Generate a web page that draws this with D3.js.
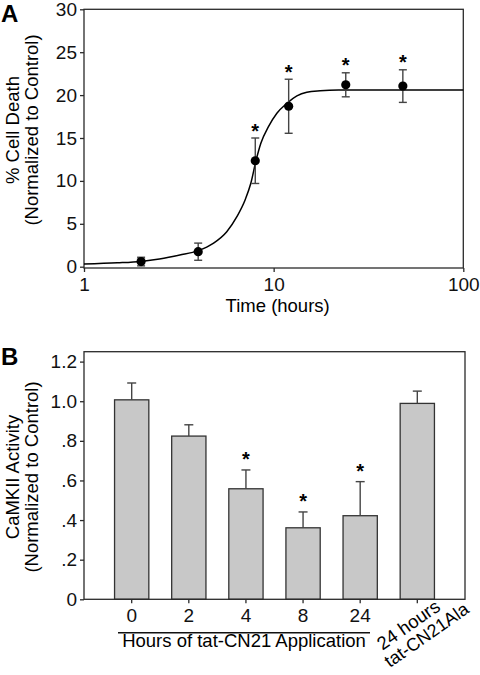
<!DOCTYPE html>
<html>
<head>
<meta charset="utf-8">
<script src="https://cdn.jsdelivr.net/npm/d3@7"></script>
<style>
  html, body { margin: 0; padding: 0; background: #fff; }
  svg { display: block; font-family: "Liberation Sans", Arial, Helvetica, sans-serif; }
</style>
</head>
<body>
<svg id="chart" width="480" height="675"></svg>
<script>
// ---------- Panel A data ----------
const timeHours    = [2, 4, 8, 12, 24, 48];
const cellDeath    = [0.6, 1.75, 12.35, 18.7, 21.2, 21.05];
const cellDeathErr = [0.5, 1.0, 2.65, 3.15, 1.4, 1.9];
const sigA         = [false, false, true, true, true, true];
// fitted sigmoid
const fitT = [1, 1.5, 2, 2.5, 3.2, 4, 4.8, 5.66, 6.4, 7.07, 7.58, 8.07, 8.56, 9.39, 10.4, 11.74, 13.26, 14.96, 17.6, 22, 30, 50, 100];
const fitV = [0.31, 0.45, 0.62, 0.9, 1.36, 1.87, 2.72, 4.08, 5.83, 7.77, 9.72, 12.35, 14.38, 16.32, 17.88, 19.04, 19.9, 20.33, 20.51, 20.6, 20.6, 20.6, 20.6];
const yTicksA = [0, 5, 10, 15, 20, 25, 30];
const xTicksA = [1, 10, 100];

// ---------- Panel B data ----------
const categories  = ["0", "2", "4", "8", "24", "ala"];
const catLabels   = ["0", "2", "4", "8", "24", ""];
const alaLabel    = ["24 hours", "tat-CN21Ala"];
const activity    = [1.007, 0.824, 0.558, 0.361, 0.422, 0.989];
const activityErr = [0.085, 0.057, 0.095, 0.080, 0.172, 0.062];
const sigB        = [false, false, true, true, true, false];
const yTicksB      = [0, 0.2, 0.4, 0.6, 0.8, 1.0, 1.2];
const yTickLabelsB = ["0", ".2", ".4", ".6", ".8", "1.0", "1.2"];

const svg = d3.select("#chart");
const AX = "#2a2a2a";
const ERR = "#444";
const TICKFONT = 19;
const TITLEFONT = 18.5;

// ================= Panel A =================
const left = 84;
const xA = d3.scaleLog().domain([1, 100]).range([left, 463.3]);
const yA = d3.scaleLinear().domain([0, 30]).range([266.7, 9.3]);
const bottomA = 268;

const gA = svg.append("g");
gA.append("rect").attr("x", left).attr("y", yA(30)).attr("width", xA(100) - left).attr("height", bottomA - yA(30))
  .attr("fill", "none").attr("stroke", AX).attr("stroke-width", 1.3);

const axLA = gA.append("g").attr("transform", `translate(${left},0)`)
  .call(d3.axisLeft(yA).tickValues(yTicksA).tickSize(4).tickPadding(3));
const axBA = gA.append("g").attr("transform", `translate(0,${bottomA})`)
  .call(d3.axisBottom(xA).tickValues(xTicksA).tickFormat(d3.format("d")).tickSize(4).tickPadding(6));
[axLA, axBA].forEach(a => {
  a.select(".domain").remove();
  a.selectAll("line").attr("stroke", AX).attr("stroke-width", 1.3);
  a.selectAll("text").attr("font-size", TICKFONT).attr("fill", "#111").attr("font-family", null);
});

// fitted curve
const line = d3.line().x(d => xA(d[0])).y(d => yA(d[1])).curve(d3.curveMonotoneX);
gA.append("path").datum(fitT.map((t, i) => [t, fitV[i]]))
  .attr("d", line).attr("fill", "none").attr("stroke", "#000").attr("stroke-width", 1.5);

// error bars
timeHours.forEach((t, i) => {
  const x = xA(t), y1 = yA(cellDeath[i] - cellDeathErr[i]), y2 = yA(cellDeath[i] + cellDeathErr[i]);
  const g = gA.append("g").attr("stroke", ERR).attr("stroke-width", 1.4);
  g.append("line").attr("x1", x).attr("x2", x).attr("y1", y1).attr("y2", y2);
  g.append("line").attr("x1", x - 4).attr("x2", x + 4).attr("y1", y1).attr("y2", y1);
  g.append("line").attr("x1", x - 4).attr("x2", x + 4).attr("y1", y2).attr("y2", y2);
  gA.append("circle").attr("cx", x).attr("cy", yA(cellDeath[i])).attr("r", 4.6).attr("fill", "#000");
  if (sigA[i]) {
    gA.append("text").attr("x", x).attr("y", y2 - 0.5).attr("text-anchor", "middle")
      .attr("font-size", 20).attr("font-weight", "bold").text("*");
  }
});

// titles
gA.append("text").attr("x", xA(10) + 4).attr("y", 312).attr("text-anchor", "middle")
  .attr("font-size", TITLEFONT).text("Time (hours)");
const tA = gA.append("g").attr("transform", "translate(0,130) rotate(-90)");
tA.append("text").attr("x", 0).attr("y", 19).attr("text-anchor", "middle").attr("font-size", TITLEFONT).text("% Cell Death");
tA.append("text").attr("x", 0).attr("y", 37.5).attr("text-anchor", "middle").attr("font-size", TITLEFONT).text("(Normalized to Control)");
gA.append("text").attr("x", 1).attr("y", 22).attr("font-size", 24).attr("font-weight", "bold").text("A");

// ================= Panel B =================
const xB = d3.scaleBand().domain(categories).range([left, 465]).paddingInner(0.4).paddingOuter(0.535);
const yB = d3.scaleLinear().domain([0, 1.25]).range([599.3, 351.7]);
const gB = svg.append("g");

// bars
categories.forEach((c, i) => {
  const x = xB(c), w = xB.bandwidth();
  gB.append("rect").attr("x", x).attr("y", yB(activity[i])).attr("width", w).attr("height", yB(0) - yB(activity[i]))
    .attr("fill", "#c8c8c8").attr("stroke", "#333").attr("stroke-width", 1.3);
  const cx = x + w / 2, yt = yB(activity[i] + activityErr[i]);
  const g = gB.append("g").attr("stroke", ERR).attr("stroke-width", 1.4);
  g.append("line").attr("x1", cx).attr("x2", cx).attr("y1", yB(activity[i])).attr("y2", yt);
  g.append("line").attr("x1", cx - 4.5).attr("x2", cx + 4.5).attr("y1", yt).attr("y2", yt);
  if (sigB[i]) {
    gB.append("text").attr("x", cx).attr("y", yt - 4).attr("text-anchor", "middle")
      .attr("font-size", 20).attr("font-weight", "bold").text("*");
  }
});

gB.append("rect").attr("x", left).attr("y", yB(1.25)).attr("width", 465 - left).attr("height", yB(0) - yB(1.25))
  .attr("fill", "none").attr("stroke", AX).attr("stroke-width", 1.3);

const axLB = gB.append("g").attr("transform", `translate(${left},0)`)
  .call(d3.axisLeft(yB).tickValues(yTicksB).tickFormat((d, i) => yTickLabelsB[i]).tickSize(4).tickPadding(3));
const axBB = gB.append("g").attr("transform", `translate(0,${yB(0)})`)
  .call(d3.axisBottom(xB).tickFormat((d, i) => catLabels[i]).tickSize(4).tickPadding(5));
[axLB, axBB].forEach(a => {
  a.select(".domain").remove();
  a.selectAll("line").attr("stroke", AX).attr("stroke-width", 1.3);
  a.selectAll("text").attr("font-size", TICKFONT).attr("fill", "#111").attr("font-family", null);
});

// group underline and label
gB.append("line").attr("x1", 118).attr("x2", 370).attr("y1", 632.7).attr("y2", 632.7)
  .attr("stroke", "#111").attr("stroke-width", 1.5);
gB.append("text").attr("x", 244).attr("y", 647).attr("text-anchor", "middle")
  .attr("font-size", TITLEFONT).text("Hours of tat-CN21 Application");

// rotated last label
const rl = gB.append("g").attr("transform", `translate(412,630) rotate(-35)`);
rl.append("text").attr("x", 0).attr("y", 0).attr("text-anchor", "middle").attr("font-size", TITLEFONT).text(alaLabel[0]);
rl.append("text").attr("x", 9).attr("y", 18.5).attr("text-anchor", "middle").attr("font-size", 18).text(alaLabel[1]);

const tB = gB.append("g").attr("transform", "translate(0,477) rotate(-90)");
tB.append("text").attr("x", 0).attr("y", 19).attr("text-anchor", "middle").attr("font-size", TITLEFONT).text("CaMKII Activity");
tB.append("text").attr("x", 0).attr("y", 37.5).attr("text-anchor", "middle").attr("font-size", TITLEFONT).text("(Normalized to Control)");
gB.append("text").attr("x", 1).attr("y", 365).attr("font-size", 24).attr("font-weight", "bold").text("B");
</script>
</body>
</html>
